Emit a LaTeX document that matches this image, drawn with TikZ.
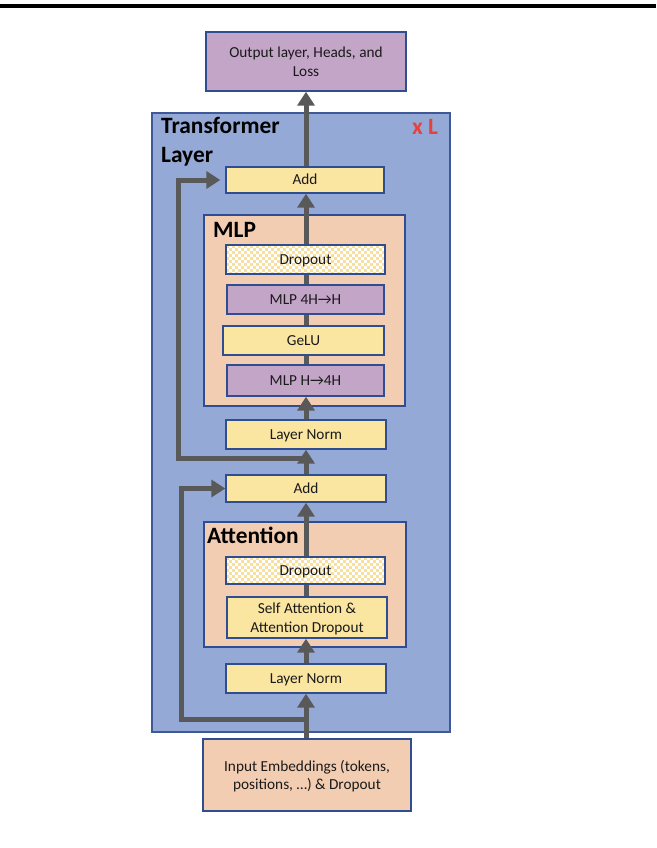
\documentclass[tikz,border=0pt]{standalone}
\usepackage{fontspec}
\setmainfont{Carlito}
\usetikzlibrary{arrows.meta}
\definecolor{tlc}{HTML}{95A9D6}
\definecolor{tlbord}{HTML}{3E5898}
\definecolor{bordc}{HTML}{2F4E92}
\definecolor{peachc}{HTML}{F3CDB1}
\definecolor{ylwc}{HTML}{FAE5A1}
\definecolor{chkc}{HTML}{F9E09A}
\definecolor{purc}{HTML}{C3A5C8}
\definecolor{arrc}{HTML}{595959}
\definecolor{redc}{HTML}{E8413C}
\definecolor{txtc}{HTML}{1A1A1A}
\tikzset{
  box/.style={draw=bordc, line width=1.4pt, text=txtc, font=\fontsize{15.3}{18.5}\selectfont, inner sep=0pt, align=center},
  onel/.style={box, text height=9.2pt, text depth=0pt},
  twol/.style={box, text depth=0pt},
  ylw/.style={fill=ylwc},
  pur/.style={fill=purc},
  grp/.style={draw=bordc, line width=1.4pt, fill=peachc, inner sep=0pt},
  conn/.style={draw=arrc, line width=5pt, line join=miter},
  arr/.style={conn, -{Triangle[width=17pt,length=14pt]}},
  sect/.style={font=\fontsize{23.4}{29.5}\selectfont\bfseries, inner sep=0pt, text=black}
}
\newcommand{\checkerfill}[4]{% x1 y1 x2 y2
  \begin{scope}
    \clip (#1,#2) rectangle (#3,#4);
    \fill[white] (#1,#2) rectangle (#3,#4);
    \foreach \i in {0,...,27}{
      \foreach \j in {0,...,5}{
        \fill[chkc] ({#1+6*\i},{#2+6*\j}) rectangle ++(3,3);
        \fill[chkc] ({#1+3+6*\i},{#2+3+6*\j}) rectangle ++(3,3);
      }
    }
  \end{scope}}
\begin{document}
\begin{tikzpicture}[x=1pt,y=-1pt]
\useasboundingbox (0,0) rectangle (656,848);
\fill[black] (0,4) rectangle (656,8.5);

% containers
\node[draw=tlbord, line width=2pt, fill=tlc, minimum width=298pt, minimum height=619pt, inner sep=0pt] (tl) at (301,422.5) {};
\node[grp, minimum width=201pt, minimum height=191pt] (mlp) at (304.5,310.5) {};
\node[grp, minimum width=202pt, minimum height=125pt] (att) at (305,584.5) {};

% labels
\node[sect, anchor=north west, align=left] (tlab) at (161,117) {Transformer\\Layer};
\node[sect, text=redc, anchor=base west] (xl) at (412,135) {x L};
\node[sect, anchor=base west] (mlab) at (213,237) {MLP};
\node[sect, anchor=base west] (alab) at (207,543) {Attention};

% checkered backgrounds of the dropout boxes
\checkerfill{226}{245}{385}{274}
\checkerfill{226}{557}{385}{584}

% boxes
\node[box, pur, minimum width=200pt, minimum height=59pt] (out) at (306,61.5) {Output layer, Heads, and\\Loss};
\node[onel, ylw, minimum width=158pt, minimum height=26pt] (add2) at (305,180) {Add};
\node[onel, minimum width=159pt, minimum height=29pt] (drop2) at (305.5,259.5) {Dropout};
\node[onel, pur, minimum width=157pt, minimum height=29pt] (mlp2) at (305.5,299.5) {MLP 4H→H};
\node[onel, ylw, minimum width=161pt, minimum height=29pt] (gelu) at (303.5,340.5) {GeLU};
\node[onel, pur, minimum width=157pt, minimum height=31pt] (mlp1) at (305.5,380.5) {MLP H→4H};
\node[onel, ylw, minimum width=160pt, minimum height=29pt] (ln2) at (306,434.5) {Layer Norm};
\node[onel, ylw, minimum width=160pt, minimum height=27pt] (add1) at (306,488.5) {Add};
\node[onel, minimum width=159pt, minimum height=27pt] (drop1) at (305.5,570.5) {Dropout};
\node[twol, ylw, minimum width=160pt, minimum height=41pt] (sa) at (307,617.5) {Self Attention \&\\Attention Dropout};
\node[onel, ylw, minimum width=160pt, minimum height=29pt] (ln1) at (306,678.5) {Layer Norm};
\node[twol, fill=peachc, minimum width=208pt, minimum height=72pt] (inp) at (307,775) {Input Embeddings (tokens,\\positions, …) \& Dropout};

% spine
\coordinate (sp) at (306,0);
\draw[arr] (inp.north -| sp) -- (ln1.south -| sp);
\draw[arr] (ln1.north -| sp) -- (sa.south -| sp);
\draw[conn] (sa.north -| sp) -- (drop1.south -| sp);
\draw[arr] (drop1.north -| sp) -- (add1.south -| sp);
\draw[arr] (add1.north -| sp) -- (ln2.south -| sp);
\draw[arr] (ln2.north -| sp) -- (mlp1.south -| sp);
\draw[conn] (mlp1.north -| sp) -- (gelu.south -| sp);
\draw[conn] (gelu.north -| sp) -- (mlp2.south -| sp);
\draw[conn] (mlp2.north -| sp) -- (drop2.south -| sp);
\draw[arr] (drop2.north -| sp) -- (add2.south -| sp);
\draw[arr] (add2.north -| sp) -- (out.south -| sp);

% skip connections
\coordinate (b1) at (306,719);
\coordinate (k1) at (181,719);
\draw[arr] (b1) -- (k1) |- (add1.west);
\coordinate (b2) at (306,458.5);
\coordinate (k2) at (178,458.5);
\draw[arr, shorten >=5pt] (b2) -- (k2) |- (add2.west);
\end{tikzpicture}
\end{document}
